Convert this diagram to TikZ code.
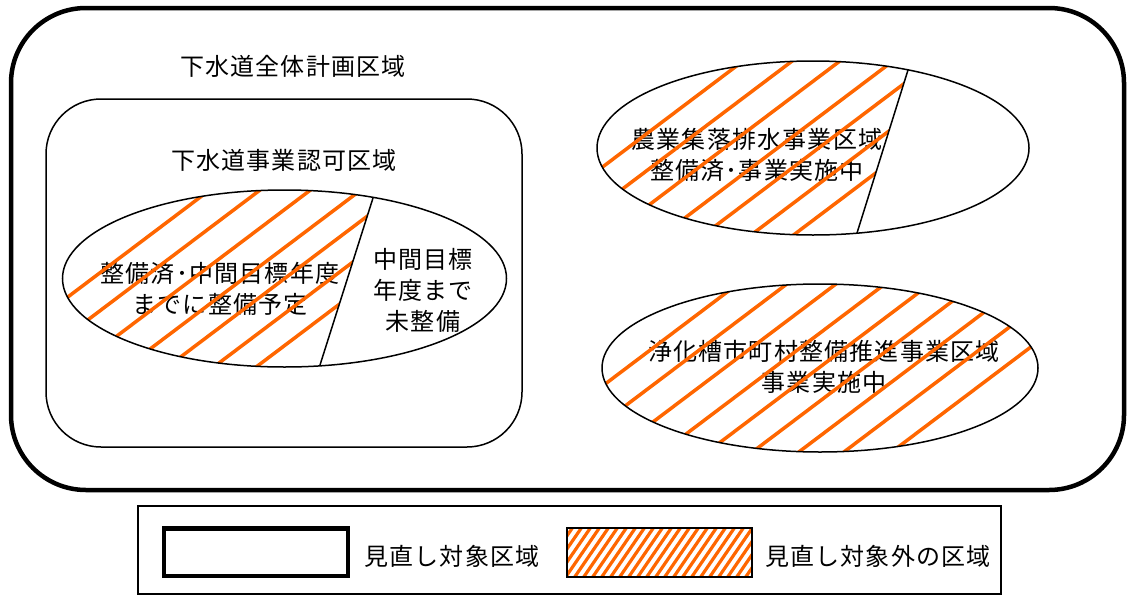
\documentclass[tikz,border=0pt]{standalone}
\usepackage{fontspec}
\usepackage{tikz}
\usetikzlibrary{positioning}
\newfontfamily\jp{Noto Sans CJK JP}[LetterSpace=5]
\definecolor{hatchorange}{RGB}{255,102,0}

\begin{document}
\begin{tikzpicture}[x=1pt,y=-1pt,
	every node/.style={font={\fontsize{24}{31}\selectfont\jp},align=center,inner sep=0pt},
	hatch/.style={hatchorange,line width=3.5pt},
	thinline/.style={black,line width=1.5pt}]

	\useasboundingbox (0,0) rectangle (1131,597);

	% regions
	\draw[line width=4.5pt,rounded corners=75pt] (11,8) rectangle (1124,490);
	\draw[thinline,rounded corners=55pt] (46,99) rectangle (522,447);

	\node (title) at (293,66) {下水道全体計画区域};
	\node (approval) at (284,160) {下水道事業認可区域};

	% ellipse 1
	\node (e1left) at (220,289) {整備済･中間目標年度\\までに整備予定};
	\node (e1right) at (423,290) {中間目標\\年度まで\\未整備};
	\begin{scope}
		\clip (284.5,278.5) ellipse [x radius=222pt, y radius=88.5pt];
		\clip (0,150) -- (388,150) -- (309,400) -- (0,400) -- cycle;
		\foreach \c in {348,386,424,462,493,528,560}
			\draw[hatch] (40,{\c-30}) -- (520,{\c-392});
	\end{scope}
	\draw[thinline] (284.5,278.5) ellipse [x radius=222pt, y radius=88.5pt];
	\draw[thinline] (373,198) -- (320,365);

	% ellipse 2
	\node (e2text) at (757,155) {農業集落排水事業区域\\整備済･事業実施中};
	\begin{scope}
		\clip (813,148) ellipse [x radius=216pt, y radius=87pt];
		\clip (560,40) -- (917,40) -- (848,260) -- (560,260) -- cycle;
		\foreach \c in {621,658,694,734,765,801,833}
			\draw[hatch] (580,{\c-437}) -- (950,{\c-716});
	\end{scope}
	\draw[thinline] (813,148) ellipse [x radius=216pt, y radius=87pt];
	\draw[thinline] (908,70) -- (857,233);

	% ellipse 3
	\node (e3text) at (824,367) {浄化槽市町村整備推進事業区域\\事業実施中};
	\begin{scope}
		\clip (820,368) ellipse [x radius=218pt, y radius=84pt];
		\foreach \c in {840,877,914,951,985,1019,1054,1088,1124}
			\draw[hatch] (580,{\c-437}) -- (1060,{\c-799});
	\end{scope}
	\draw[thinline] (820,368) ellipse [x radius=218pt, y radius=84pt];

	% legend
	\draw[line width=1.2pt] (138,506) rectangle (1001,594);
	\draw[line width=4.5pt] (164,528.5) rectangle (348,576);
	\node (legA) at (452,556) {見直し対象区域};
	\begin{scope}
		\clip (567,528) rectangle (752,577);
		\foreach \x in {520,529,...,760}
			\draw[hatchorange,line width=3.2pt] (\x,578) -- (\x+35,527);
	\end{scope}
	\draw[line width=1.2pt] (567,528) rectangle (752,577);
	\node (legB) at (878,556) {見直し対象外の区域};

\end{tikzpicture}
\end{document}
